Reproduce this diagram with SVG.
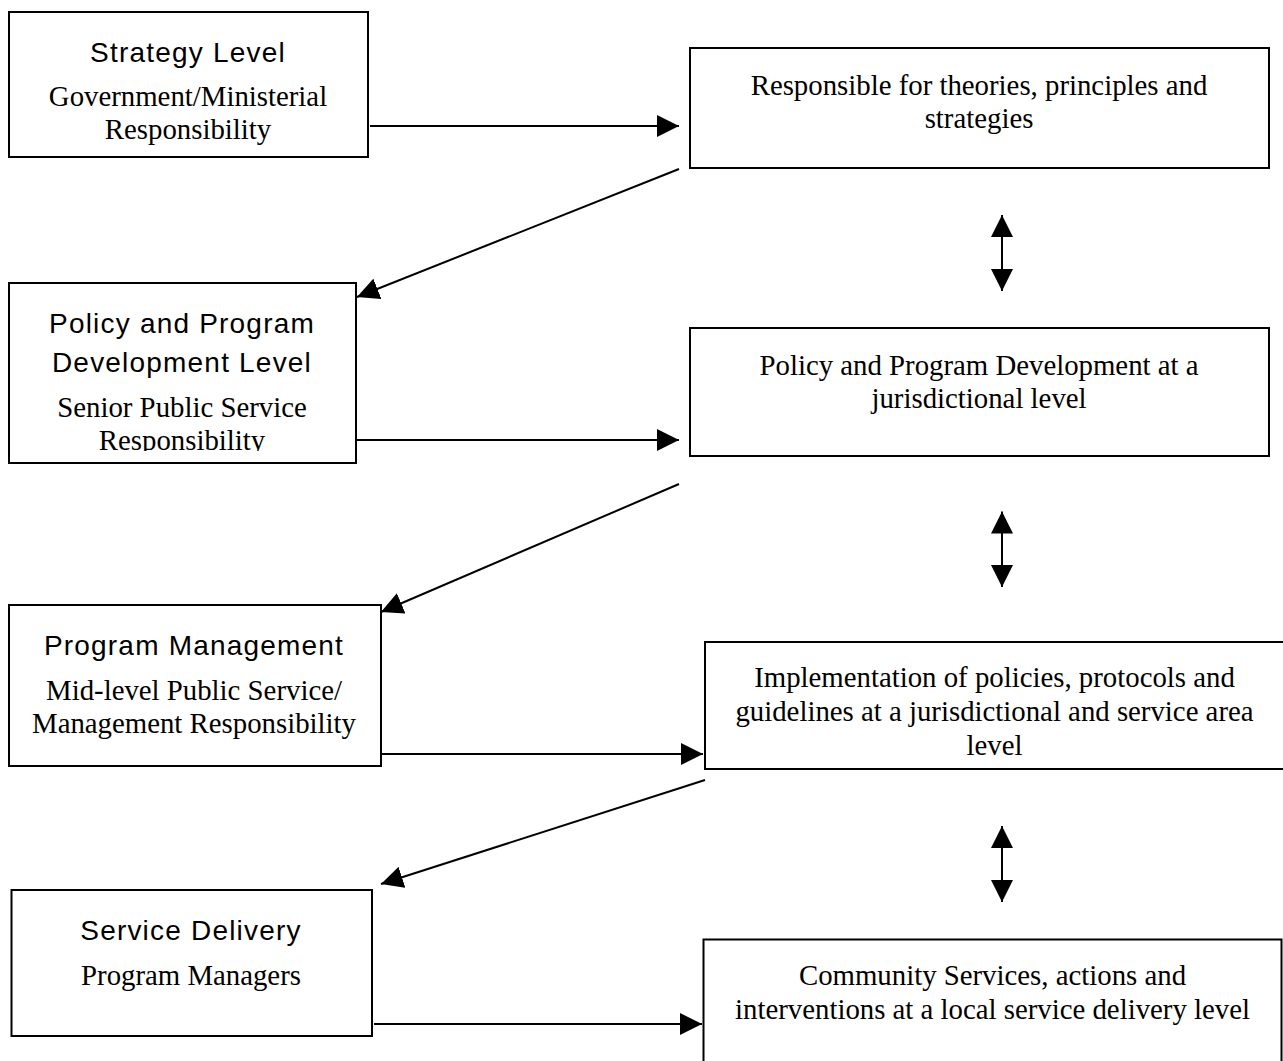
<svg xmlns="http://www.w3.org/2000/svg" width="1283" height="1061" viewBox="0 0 1283 1061">
  <style>
    .box { fill: #ffffff; stroke: #000000; stroke-width: 2; }
    .head { font-family: "Liberation Sans", Arial, sans-serif; font-size: 28px; letter-spacing: 1.2px; text-anchor: middle; fill: #000000; }
    .body { font-family: "Liberation Serif", "Times New Roman", serif; font-size: 28.8px; text-anchor: middle; fill: #000000; }
    .link { stroke: #000000; stroke-width: 2; fill: none; }
    .one { marker-end: url(#tip); }
    .two { marker-start: url(#tip); marker-end: url(#tip); }
  </style>
  <defs>
    <marker id="tip" markerUnits="userSpaceOnUse" markerWidth="22" markerHeight="22" refX="22" refY="11" orient="auto-start-reverse">
      <path d="M0,0 L22,11 L0,22 z" fill="#000000"/>
    </marker>
    <clipPath id="clipPolicy">
      <rect x="9" y="283" width="347" height="168"/>
    </clipPath>
  </defs>
  <rect width="1283" height="1061" fill="#ffffff"/>

  <!-- left column: levels -->
  <g id="strategy-level">
    <rect class="box" x="9" y="12" width="359" height="145"/>
    <text class="head" x="188" y="62">Strategy Level</text>
    <text class="body" x="188" y="106">Government/Ministerial</text>
    <text class="body" x="188" y="139">Responsibility</text>
  </g>

  <g id="policy-level">
    <rect class="box" x="9" y="283" width="347" height="180"/>
    <g clip-path="url(#clipPolicy)">
      <text class="head" x="182" y="333">Policy and Program</text>
      <text class="head" x="182" y="372">Development Level</text>
      <text class="body" x="182" y="417">Senior Public Service</text>
      <text class="body" x="182" y="450">Responsibility</text>
    </g>
  </g>

  <g id="program-management">
    <rect class="box" x="9" y="605" width="372" height="161"/>
    <text class="head" x="194" y="655">Program Management</text>
    <text class="body" x="194" y="700">Mid-level Public Service/</text>
    <text class="body" x="194" y="733">Management Responsibility</text>
  </g>

  <g id="service-delivery">
    <rect class="box" x="11.5" y="890" width="360.5" height="146"/>
    <text class="head" x="191" y="940">Service Delivery</text>
    <text class="body" x="191" y="985">Program Managers</text>
  </g>

  <!-- right column: responsibilities -->
  <g id="theories">
    <rect class="box" x="690" y="48" width="579" height="120"/>
    <text class="body" x="979" y="95">Responsible for theories, principles and</text>
    <text class="body" x="979" y="128">strategies</text>
  </g>

  <g id="jurisdictional">
    <rect class="box" x="690" y="328" width="579" height="128"/>
    <text class="body" x="979" y="375">Policy and Program Development at a</text>
    <text class="body" x="979" y="408">jurisdictional level</text>
  </g>

  <g id="implementation">
    <rect class="box" x="705" y="642" width="600" height="127"/>
    <text class="body" x="994.5" y="687">Implementation of policies, protocols and</text>
    <text class="body" x="994.5" y="720.5">guidelines at a jurisdictional and service area</text>
    <text class="body" x="994.5" y="754.5">level</text>
  </g>

  <g id="community">
    <rect class="box" x="703.5" y="939.5" width="578" height="200"/>
    <text class="body" x="992.5" y="985">Community Services, actions and</text>
    <text class="body" x="992.5" y="1018.5">interventions at a local service delivery level</text>
  </g>

  <!-- connectors -->
  <g id="connectors">
    <line class="link one" x1="370" y1="126" x2="679" y2="126"/>
    <line class="link one" x1="679" y1="169" x2="357" y2="297"/>
    <line class="link two" x1="1002" y1="215" x2="1002" y2="291"/>
    <line class="link one" x1="357" y1="440" x2="679" y2="440"/>
    <line class="link one" x1="679" y1="484" x2="381" y2="612"/>
    <line class="link two" x1="1002" y1="511.5" x2="1002" y2="587"/>
    <line class="link one" x1="381" y1="754" x2="703" y2="754"/>
    <line class="link one" x1="705" y1="780" x2="381" y2="884"/>
    <line class="link two" x1="1002" y1="826" x2="1002" y2="902"/>
    <line class="link one" x1="374" y1="1024" x2="702" y2="1024"/>
  </g>
</svg>
